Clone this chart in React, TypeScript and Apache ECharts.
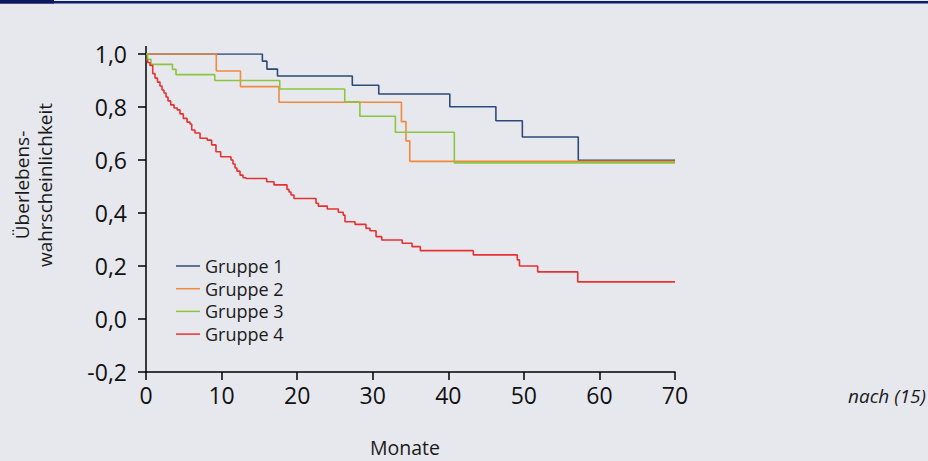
import React, { useEffect, useRef } from "react";
import * as echarts from "echarts";

const seriesNames = ["Gruppe 1", "Gruppe 2", "Gruppe 3", "Gruppe 4"];
const colors = ["#2d4a78", "#f08a3c", "#8cc63f", "#e53232"];

const xTicks = [0, 10, 20, 30, 40, 50, 60, 70];

const group1Times = [0, 15.4, 16.0, 17.4, 27.3, 30.8, 40.2, 46.3, 49.8, 57.2, 70];
const group1Surv = [1.0, 0.973, 0.943, 0.917, 0.882, 0.849, 0.801, 0.748, 0.687, 0.599, 0.599];

const group2Times = [0, 9.3, 12.5, 17.6, 33.8, 34.4, 34.9, 70];
const group2Surv = [1.0, 0.936, 0.877, 0.818, 0.745, 0.672, 0.595, 0.595];

const group3Times = [0, 0.2, 0.66, 3.5, 3.97, 9.1, 17.7, 26.3, 28.3, 33.0, 40.8, 70];
const group3Surv = [1.0, 0.98, 0.961, 0.942, 0.922, 0.9, 0.868, 0.82, 0.765, 0.705, 0.589, 0.589];

const group4Times = [
  0, 0.22, 0.53, 0.89, 1.19, 1.52, 1.85, 2.12, 2.38, 2.65, 2.91, 3.27, 3.71, 4.14, 4.5,
  4.94, 5.43, 5.82, 6.05, 6.48, 7.15, 8.11, 8.69, 9.26, 9.88, 11.25, 11.51, 11.78, 12.04,
  12.44, 12.84, 13.23, 15.97, 16.94, 18.66, 18.92, 19.19, 19.58, 22.5, 22.8, 23.99, 25.45,
  26.1, 26.33, 27.66, 29.11, 29.64, 30.44, 31.19, 33.9, 35.2, 36.3, 43.31, 49.13, 49.42,
  51.83, 57.13, 70,
];
const group4Surv = [
  0.977, 0.968, 0.957, 0.926, 0.909, 0.894, 0.879, 0.864, 0.853, 0.838, 0.823, 0.808, 0.796,
  0.789, 0.774, 0.757, 0.743, 0.736, 0.713, 0.702, 0.682, 0.675, 0.657, 0.631, 0.612, 0.6,
  0.585, 0.57, 0.558, 0.543, 0.533, 0.53, 0.518, 0.506, 0.489, 0.479, 0.468, 0.455, 0.437,
  0.426, 0.415, 0.403, 0.392, 0.367, 0.357, 0.342, 0.333, 0.311, 0.298, 0.286, 0.273, 0.258,
  0.242, 0.223, 0.2, 0.178, 0.14, 0.14,
];

const allTimes = [group1Times, group2Times, group3Times, group4Times];
const allSurv = [group1Surv, group2Surv, group3Surv, group4Surv];

const FONT = "'Open Sans', 'Noto Sans', sans-serif";

export default function App() {
  const ref = useRef<HTMLDivElement>(null);

  useEffect(() => {
    if (!ref.current) return;
    const chart = echarts.init(ref.current, undefined, { renderer: "svg" });

    const series = seriesNames.map((name, i) => ({
      name,
      type: "line",
      step: "end",
      symbol: "none",
      data: allTimes[i].map((t, j) => [t, allSurv[i][j]]),
      lineStyle: { color: colors[i], width: 1.6 },
      itemStyle: { color: colors[i] },
      z: 2 + i,
    }));

    chart.setOption({
      animation: false,
      backgroundColor: "#e7e8ee",
      textStyle: { fontFamily: FONT },
      grid: { left: 146, right: 253, top: 54, bottom: 89, containLabel: false },
      xAxis: {
        type: "value",
        min: 0,
        max: 70,
        interval: 10,
        axisLine: { onZero: false, lineStyle: { color: "#000", width: 1.5 } },
        axisTick: { show: true, length: 8, lineStyle: { color: "#000", width: 1.5 } },
        axisLabel: {
          fontSize: 23,
          color: "#111",
          margin: 11,
          fontFamily: FONT,
          formatter: (v: number) => (xTicks.includes(v) ? String(v) : ""),
        },
        splitLine: { show: false },
      },
      yAxis: {
        type: "value",
        min: -0.2,
        max: 1.0,
        interval: 0.2,
        axisLine: { show: true, onZero: false, lineStyle: { color: "#000", width: 1.5 } },
        axisTick: { show: true, length: 8, lineStyle: { color: "#000", width: 1.5 } },
        axisLabel: {
          fontSize: 23,
          color: "#111",
          margin: 19,
          fontFamily: FONT,
          formatter: (v: number) => v.toFixed(1).replace(".", ","),
        },
        splitLine: { show: false },
      },
      legend: {
        orient: "vertical",
        left: 171,
        top: 250,
        icon: "rect",
        itemWidth: 24,
        itemHeight: 1.5,
        itemGap: 0.7,
        data: seriesNames,
        textStyle: { fontSize: 18, color: "#1a1a1a", lineHeight: 22, fontFamily: FONT },
      },
      graphic: [
        { type: "rect", shape: { x: 0, y: 1, width: 928, height: 2.4 }, style: { fill: "#0d1f6b" } },
        { type: "rect", shape: { x: 0, y: 0, width: 54, height: 3.6 }, style: { fill: "#0a1a5c" } },
        {
          type: "line",
          shape: { x1: 146, y1: 46, x2: 146, y2: 55 },
          style: { stroke: "#000", lineWidth: 1.5 },
        },
        {
          type: "text",
          x: 33,
          y: 185,
          rotation: Math.PI / 2,
          style: {
            text: "Überlebens-\nwahrscheinlichkeit",
            fontSize: 19,
            lineHeight: 23,
            fill: "#1a1a1a",
            fontFamily: FONT,
            align: "center",
            verticalAlign: "middle",
          },
        },
        {
          type: "text",
          x: 405,
          y: 447,
          style: {
            text: "Monate",
            fontSize: 19.5,
            fill: "#1a1a1a",
            fontFamily: FONT,
            align: "center",
            verticalAlign: "middle",
          },
        },
        {
          type: "text",
          x: 926,
          y: 396,
          style: {
            text: "nach (15)",
            fontSize: 19,
            fontStyle: "italic",
            fill: "#1a1a1a",
            fontFamily: FONT,
            align: "right",
            verticalAlign: "middle",
          },
        },
      ],
      series,
    });

    return () => chart.dispose();
  }, []);

  return (
    <div
      ref={ref}
      style={{ position: "fixed", left: 0, top: 0, width: 928, height: 461 }}
    />
  );
}
